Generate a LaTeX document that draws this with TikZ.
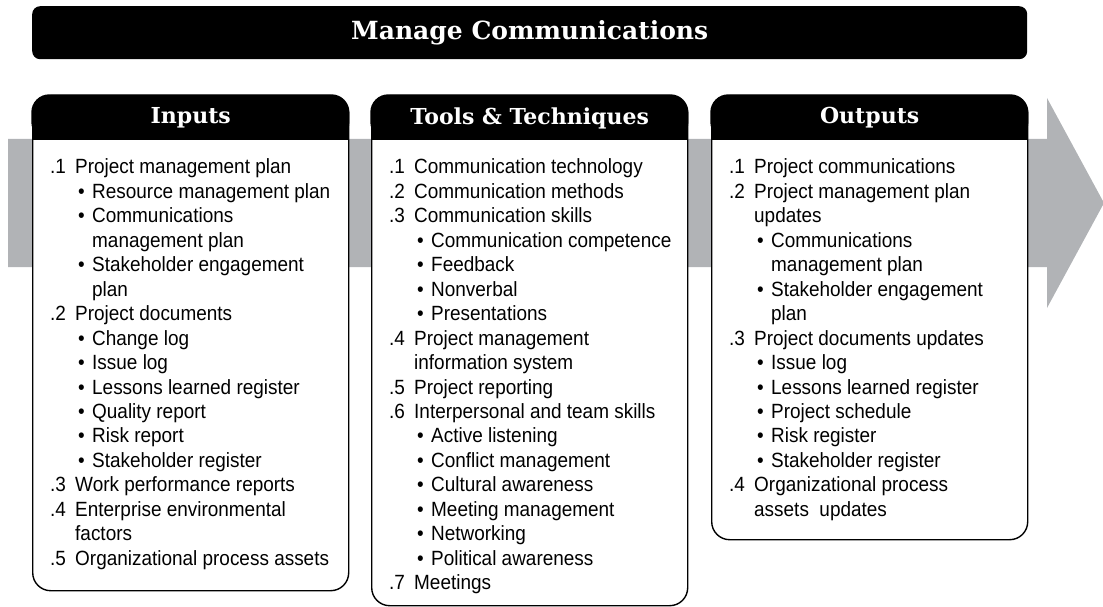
\documentclass[tikz,border=0pt]{standalone}
\usepackage{fontspec}
\setmainfont{Liberation Sans}[FakeStretch=0.92]
\newfontfamily\slabfont{DejaVu Serif}
\definecolor{bandgray}{RGB}{177,179,182}
\newcommand\LnNum[2]{\makebox[25pt][l]{#1}#2\par}
\newcommand\LnBul[1]{\hspace*{28pt}\makebox[14pt][l]{\textbullet}#1\par}
\newcommand\LnBulC[1]{\hspace*{42pt}#1\par}
\newcommand\LnNumC[1]{\hspace*{25pt}#1\par}
\newcommand\listbox[1]{\vtop{\hsize=300pt\parindent=0pt\parskip=0pt\fontsize{20.6pt}{24.45pt}\selectfont\lineskiplimit=-100pt #1}}
\tikzset{
  boxshape/.style={draw, line width=1.4pt, fill=white, rounded corners=18pt, inner sep=0pt, minimum width=316pt, anchor=north west},
  titlebar/.style={fill=black, rounded corners=8pt, inner sep=0pt, minimum width=995pt, minimum height=53pt, anchor=north west, text=white, font=\slabfont\bfseries\fontsize{25pt}{29pt}\selectfont},
  hdrtext/.style={text=white, inner sep=0pt, font=\slabfont\bfseries\fontsize{22pt}{26pt}\selectfont},
  listnode/.style={inner sep=0pt, anchor=base west}
}
\begin{document}
\begin{tikzpicture}[x=1pt, y=-1pt]
\useasboundingbox (0,0) rectangle (1103,607);
% gray process arrow
\fill[bandgray] (8,139) -- (1047,139) -- (1047,98) -- (1104,203) -- (1047,308) -- (1047,267) -- (8,267) -- cycle;
% title
\node[titlebar] (title) at (32,6) {Manage Communications};
% boxes
\node[boxshape, minimum height=495pt] (inp) at (32,95) {};
\node[boxshape, minimum height=510pt] (tools) at (371,95) {};
\node[boxshape, minimum height=444pt] (outp) at (711,95) {};
% headers
\foreach \b in {inp,tools,outp}{
  \fill[rounded corners=18pt] ([shift={(-0.7pt,0.7pt)}]\b.north west) rectangle ([yshift=-45pt]\b.north east);
  \fill ([yshift=-22pt]\b.north west) rectangle ([yshift=-45pt]\b.north east);
}
\node[hdrtext] (inpH) at ([yshift=-23pt]inp.north) {Inputs};
\node[hdrtext] (toolsH) at ([yshift=-23pt]tools.north) {Tools \& Techniques};
\node[hdrtext] (outpH) at ([yshift=-23pt]outp.north) {Outputs};
% lists
\node[listnode] (inpL) at (50,174) {\listbox{%
\LnNum{.1}{Project management plan}
\LnBul{Resource management plan}
\LnBul{Communications}
\LnBulC{management plan}
\LnBul{Stakeholder engagement}
\LnBulC{plan}
\LnNum{.2}{Project documents}
\LnBul{Change log}
\LnBul{Issue log}
\LnBul{Lessons learned register}
\LnBul{Quality report}
\LnBul{Risk report}
\LnBul{Stakeholder register}
\LnNum{.3}{Work performance reports}
\LnNum{.4}{Enterprise environmental}
\LnNumC{factors}
\LnNum{.5}{Organizational process assets}}};
\node[listnode] (toolsL) at (389,174) {\listbox{%
\LnNum{.1}{Communication technology}
\LnNum{.2}{Communication methods}
\LnNum{.3}{Communication skills}
\LnBul{Communication competence}
\LnBul{Feedback}
\LnBul{Nonverbal}
\LnBul{Presentations}
\LnNum{.4}{Project management}
\LnNumC{information system}
\LnNum{.5}{Project reporting}
\LnNum{.6}{Interpersonal and team skills}
\LnBul{Active listening}
\LnBul{Conflict management}
\LnBul{Cultural awareness}
\LnBul{Meeting management}
\LnBul{Networking}
\LnBul{Political awareness}
\LnNum{.7}{Meetings}}};
\node[listnode] (outpL) at (729,174) {\listbox{%
\LnNum{.1}{Project communications}
\LnNum{.2}{Project management plan}
\LnNumC{updates}
\LnBul{Communications}
\LnBulC{management plan}
\LnBul{Stakeholder engagement}
\LnBulC{plan}
\LnNum{.3}{Project documents updates}
\LnBul{Issue log}
\LnBul{Lessons learned register}
\LnBul{Project schedule}
\LnBul{Risk register}
\LnBul{Stakeholder register}
\LnNum{.4}{Organizational process}
\LnNumC{assets\ \ updates}}};
\end{tikzpicture}
\end{document}
